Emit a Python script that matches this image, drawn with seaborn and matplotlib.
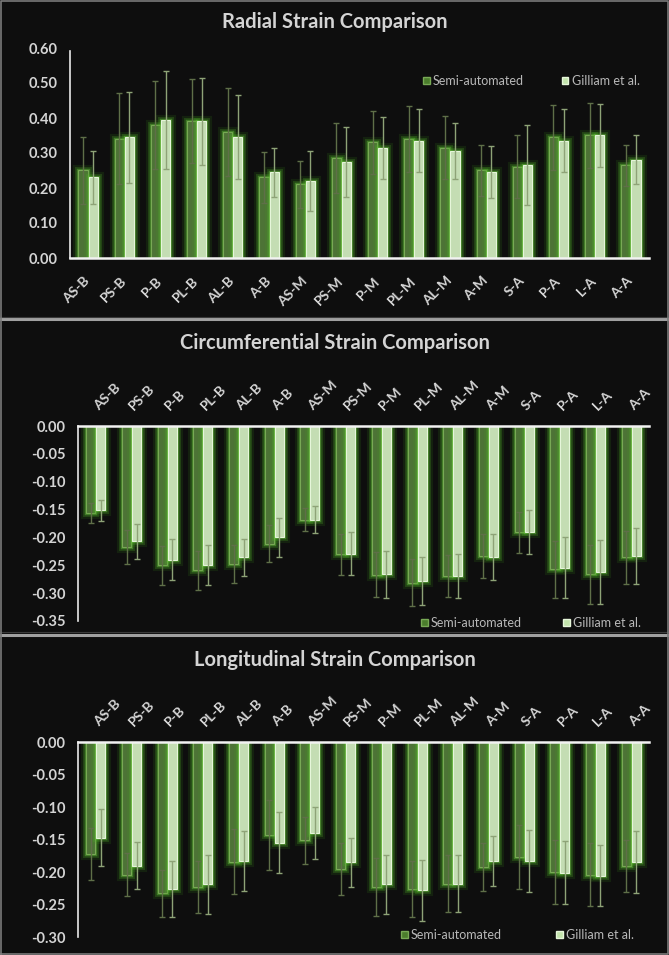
import numpy as np
import pandas as pd
import matplotlib
matplotlib.use('Agg')
import matplotlib.pyplot as plt
import matplotlib.patheffects as pe
from matplotlib.patches import Patch
from matplotlib.lines import Line2D
import seaborn as sns

segments = ['AS-B', 'PS-B', 'P-B', 'PL-B', 'AL-B', 'A-B', 'AS-M', 'PS-M',
            'P-M', 'PL-M', 'AL-M', 'A-M', 'S-A', 'P-A', 'L-A', 'A-A']
methods = ['Semi-automated', 'Gilliam et al.']

# radial strain (mean, sd)
radial_semi = [0.25, 0.34, 0.38, 0.39, 0.36, 0.23, 0.21, 0.285, 0.33, 0.34, 0.315, 0.25, 0.26, 0.345, 0.35, 0.265]
radial_semi_sd = [0.095, 0.13, 0.125, 0.12, 0.125, 0.072, 0.067, 0.10, 0.09, 0.093, 0.09, 0.072, 0.09, 0.093, 0.093, 0.058]
radial_gil = [0.23, 0.345, 0.395, 0.39, 0.345, 0.245, 0.22, 0.275, 0.315, 0.335, 0.305, 0.245, 0.265, 0.335, 0.35, 0.28]
radial_gil_sd = [0.075, 0.13, 0.14, 0.125, 0.12, 0.07, 0.085, 0.10, 0.088, 0.09, 0.08, 0.075, 0.115, 0.09, 0.09, 0.07]

# circumferential strain
circ_semi = [-0.156, -0.217, -0.25, -0.259, -0.247, -0.211, -0.168, -0.23, -0.267, -0.281, -0.269, -0.233, -0.191, -0.257, -0.266, -0.236]
circ_semi_sd = [0.018, 0.03, 0.035, 0.035, 0.034, 0.033, 0.02, 0.037, 0.04, 0.042, 0.038, 0.039, 0.037, 0.051, 0.053, 0.047]
circ_gil = [-0.151, -0.207, -0.24, -0.25, -0.236, -0.20, -0.168, -0.229, -0.266, -0.279, -0.269, -0.235, -0.19, -0.254, -0.262, -0.233]
circ_gil_sd = [0.019, 0.032, 0.037, 0.036, 0.033, 0.035, 0.024, 0.039, 0.042, 0.043, 0.039, 0.042, 0.04, 0.055, 0.058, 0.05]

# longitudinal strain
long_semi = [-0.172, -0.204, -0.233, -0.223, -0.184, -0.143, -0.151, -0.195, -0.223, -0.226, -0.218, -0.192, -0.177, -0.20, -0.204, -0.19]
long_semi_sd = [0.04, 0.033, 0.036, 0.04, 0.05, 0.054, 0.036, 0.04, 0.044, 0.043, 0.044, 0.037, 0.049, 0.049, 0.048, 0.04]
long_gil = [-0.147, -0.19, -0.226, -0.219, -0.183, -0.155, -0.14, -0.185, -0.219, -0.228, -0.218, -0.183, -0.183, -0.201, -0.206, -0.185]
long_gil_sd = [0.044, 0.036, 0.043, 0.045, 0.046, 0.047, 0.04, 0.038, 0.045, 0.047, 0.044, 0.038, 0.048, 0.048, 0.047, 0.048]

BG = '#0e0e0e'
TXT = '#d4d4d4'
SEMI = '#4b7d2c'
GIL = '#c3e4ac'
W, H = 669, 955

sns.set_theme(style='dark')
plt.rcParams['font.family'] = ['Lato', 'DejaVu Sans']
plt.rcParams['axes.facecolor'] = BG
plt.rcParams['figure.facecolor'] = BG

fig = plt.figure(figsize=(W / 100, H / 100), dpi=100)


def box(x0, y_top, x1, y_bot):
    return [x0 / W, 1 - y_bot / H, (x1 - x0) / W, (y_bot - y_top) / H]


def panel(ax, semi, semi_sd, gil, gil_sd, ylim, yticks, on_top):
    df = pd.DataFrame({
        'segment': segments * 2,
        'value': semi + gil,
        'method': [methods[0]] * len(segments) + [methods[1]] * len(segments),
    })
    sns.barplot(data=df, x='segment', y='value', hue='method', hue_order=methods,
                palette=[SEMI, GIL], width=0.56, gap=0.1, errorbar=None,
                legend=False, ax=ax)
    glow = [pe.Stroke(linewidth=8, foreground='#3f9a1c', alpha=0.14),
            pe.Stroke(linewidth=5, foreground='#4fae27', alpha=0.25),
            pe.Stroke(linewidth=2.5, foreground='#66c23c', alpha=0.45),
            pe.Normal()]
    edges = ['#78a955', '#e6f6da']
    err_cols = ['#5f6f48', '#8ea377']
    for cont, sd, ec, erc in zip(ax.containers, [semi_sd, gil_sd], edges, err_cols):
        xs, ys = [], []
        for p in cont.patches:
            p.set_edgecolor(ec)
            p.set_linewidth(0.8)
            p.set_path_effects(glow)
            xs.append(p.get_x() + p.get_width() / 2)
            ys.append(p.get_height())
        ax.errorbar(xs, ys, yerr=sd, fmt='none', ecolor=erc, elinewidth=1.0,
                    capsize=2.5, capthick=1.0, zorder=5)
    ax.set_xlim(-0.5, len(segments) - 0.5)
    ax.set_ylim(*ylim)
    ax.set_yticks(yticks)
    ax.set_yticklabels([f'{t:.2f}' for t in yticks], fontsize=10.5, fontweight='bold', color=TXT)
    ax.set_xlabel('')
    ax.set_ylabel('')
    ax.grid(False)
    ax.tick_params(length=0, pad=9)
    for s in ax.spines.values():
        s.set_visible(False)
    ax.spines['left'].set_visible(True)
    ax.spines['left'].set_color('#e8e8e8')
    ax.spines['left'].set_linewidth(1.2)
    ax.set_xticks(range(len(segments)))
    if on_top:
        ax.xaxis.tick_top()
        ax.spines['top'].set_visible(True)
        ax.spines['top'].set_color('#f2f2f2')
        ax.spines['top'].set_linewidth(1.8)
        ax.set_xticklabels(segments, rotation=45, ha='left', va='center',
                           rotation_mode='anchor', fontsize=10, fontweight='bold', color=TXT)
        ax.tick_params(axis='x', pad=13)
    else:
        ax.spines['bottom'].set_visible(True)
        ax.spines['bottom'].set_color('#f2f2f2')
        ax.spines['bottom'].set_linewidth(1.8)
        ax.set_xticklabels(segments, rotation=45, ha='right', va='center',
                           rotation_mode='anchor', fontsize=10, fontweight='bold', color=TXT)
        ax.tick_params(axis='x', pad=15)


ax1 = fig.add_axes(box(70, 48, 649, 258))
panel(ax1, radial_semi, radial_semi_sd, radial_gil, radial_gil_sd, (0, 0.6),
      [0.0, 0.1, 0.2, 0.3, 0.4, 0.5, 0.6], False)
ax1.spines['left'].set_bounds(0, 0.59)

ax2 = fig.add_axes(box(78, 426, 649, 621))
panel(ax2, circ_semi, circ_semi_sd, circ_gil, circ_gil_sd, (-0.35, 0),
      [0.0, -0.05, -0.10, -0.15, -0.20, -0.25, -0.30, -0.35], True)

ax3 = fig.add_axes(box(78, 742, 649, 937))
panel(ax3, long_semi, long_semi_sd, long_gil, long_gil_sd, (-0.30, 0),
      [0.0, -0.05, -0.10, -0.15, -0.20, -0.25, -0.30], True)

titles = ['Radial Strain Comparison', 'Circumferential Strain Comparison',
          'Longitudinal Strain Comparison']
for t, y in zip(titles, [22, 343, 660]):
    fig.text(335 / W, 1 - y / H, t, ha='center', va='center', fontsize=14.5,
             fontweight='bold', color=TXT)

handles = [Patch(facecolor=SEMI, edgecolor='#78a955'), Patch(facecolor=GIL, edgecolor='#e6f6da')]
for x, y, cs in [(423, 81, 3.0), (421, 623, 3.3), (401, 935, 4.3)]:
    fig.legend(handles, methods, loc='center left', bbox_to_anchor=(x / W, 1 - y / H),
               ncol=2, frameon=False, fontsize=9, labelcolor='#b8b8b8',
               handlelength=0.55, handleheight=0.55, handletextpad=0.25,
               columnspacing=cs, borderpad=0, borderaxespad=0)

# panel separators and outer frame
for y in [319.5, 634.5]:
    fig.add_artist(Line2D([0, 1], [1 - y / H, 1 - y / H], color='#a0a0a0', lw=2.2))
    fig.add_artist(Line2D([0, 1], [1 - (y - 2.5) / H, 1 - (y - 2.5) / H], color='#3a3a3a', lw=0.8))
fig.add_artist(Line2D([0.001, 0.001, 0.999, 0.999, 0.001], [0.001, 0.999, 0.999, 0.001, 0.001],
                      color='#7a7a7a', lw=1.2))

fig.savefig('out.png', dpi=100, facecolor=BG)
